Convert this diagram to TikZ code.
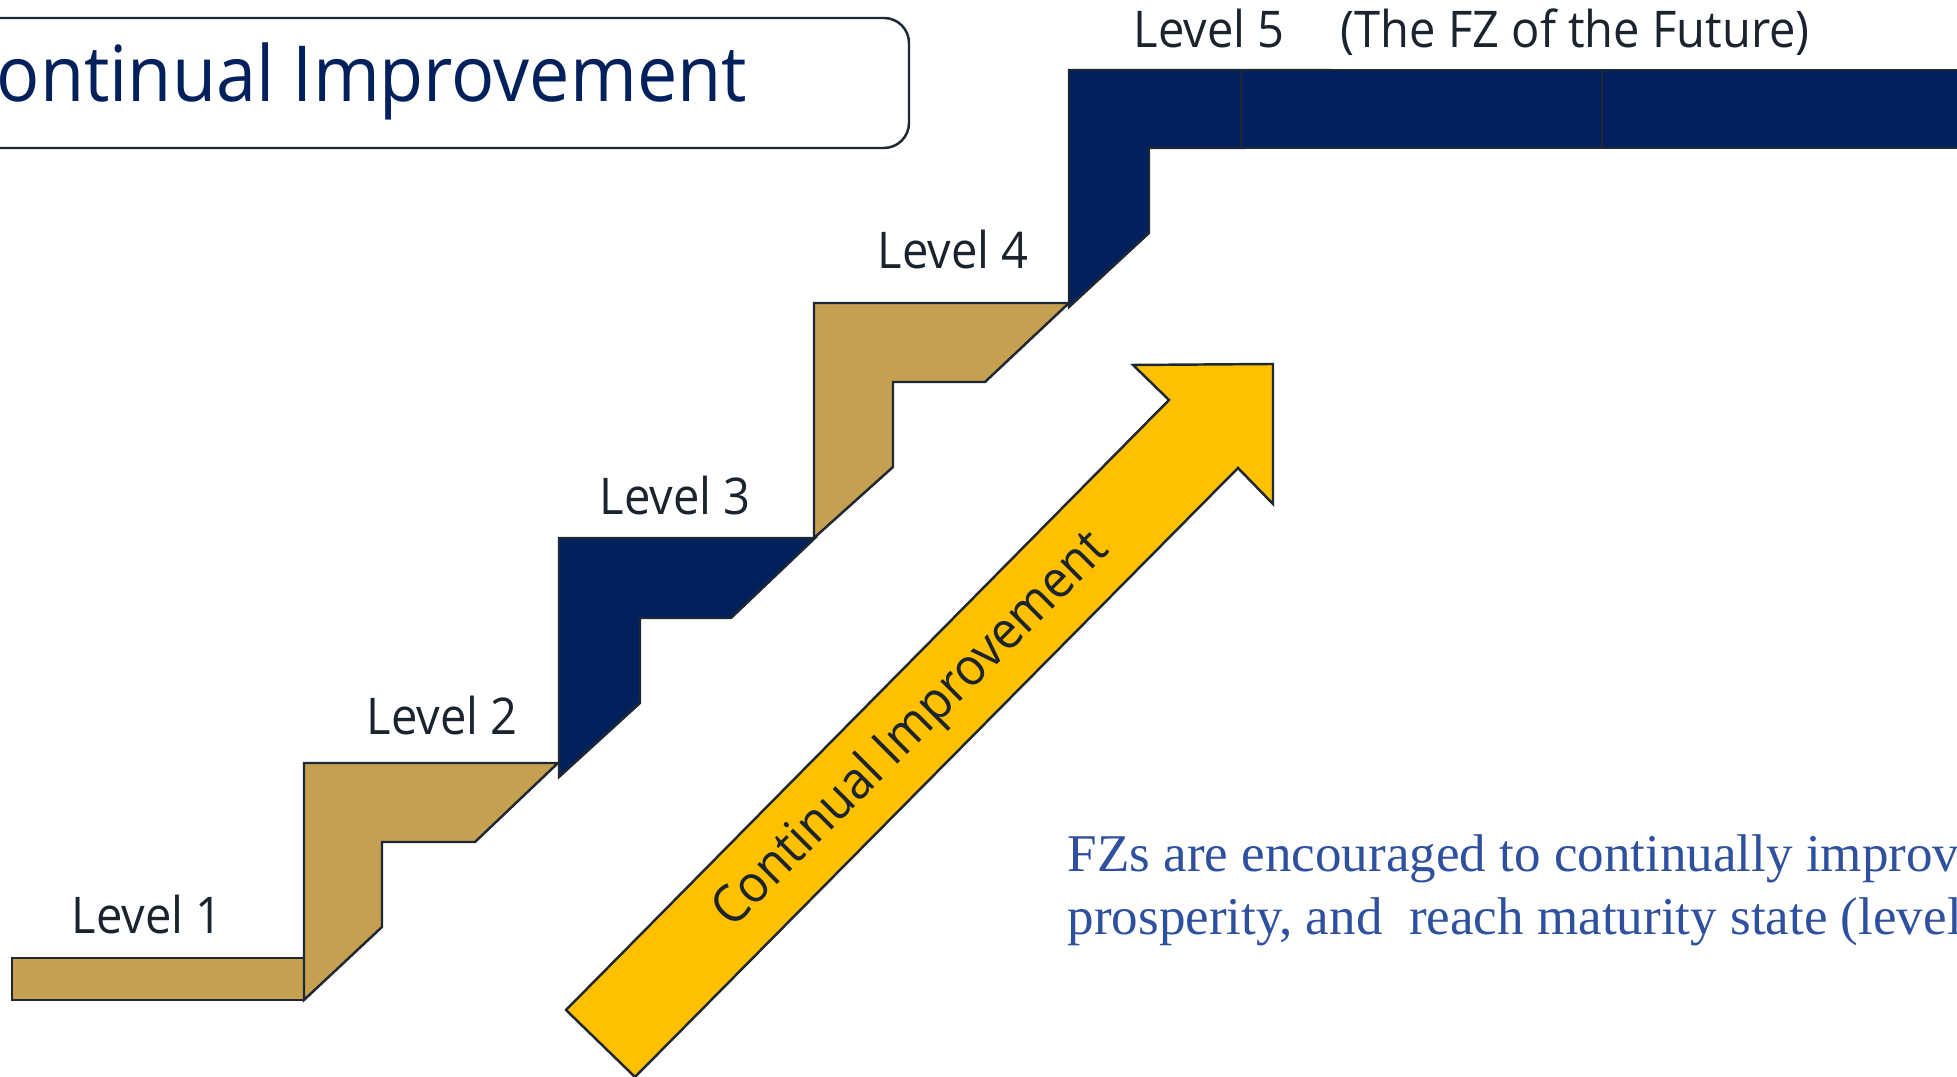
\documentclass[tikz,border=0pt]{standalone}
\usepackage{fontspec}
\setmainfont{Liberation Serif}
\newfontfamily\stairfont[FakeStretch=0.93]{Open Sans}
\definecolor{stepgold}{RGB}{196,160,80}
\definecolor{stepnavy}{RGB}{2,33,92}
\definecolor{arrowyellow}{RGB}{255,192,0}
\definecolor{edgedark}{RGB}{30,40,52}
\definecolor{labeldark}{RGB}{27,36,46}
\definecolor{noteblue}{RGB}{46,80,158}

\begin{document}
\begin{tikzpicture}[x=0.1mm, y=-0.1mm,
    goldstep/.style={fill=stepgold, draw=edgedark, line width=0.7pt},
    navystep/.style={fill=stepnavy, draw=edgedark, line width=0.7pt},
    levellabel/.style={anchor=base west, inner sep=0pt, text=labeldark,
        font=\stairfont\fontsize{14.4}{17}\selectfont},
    note/.style={anchor=base west, inner sep=0pt, text=noteblue,
        font=\fontsize{15.1}{18}\selectfont}]

  \useasboundingbox (0,0) rectangle (1957,1077);
  \clip (0,0) rectangle (1957,1077);

  % Titolo
  \draw[edgedark, line width=0.7pt, rounded corners=2.5mm, fill=white] (-30,18) rectangle (909,148);
  \node[anchor=base west, inner sep=0pt, text=stepnavy,
        font=\stairfont\fontsize{22}{26}\selectfont] (title) at (-4,102) {ontinual Improvement};

  % Gradini
  \draw[goldstep] (12,958) rectangle (304,1000);
  \draw[goldstep] (304,1000) -- (304,763) -- (558,763) -- (475,842) -- (382,842) -- (382,927) -- cycle;
  \draw[navystep] (559,777) -- (559,538) -- (815,538) -- (731,618) -- (640,618) -- (640,703) -- cycle;
  \draw[goldstep] (814,538) -- (814,303) -- (1069,303) -- (985,382) -- (893,382) -- (893,467) -- cycle;
  \draw[navystep] (1069,307) -- (1069,70) -- (1328,70) -- (1245,148) -- (1149,148) -- (1149,233) -- cycle;
  \draw[navystep] (1241,70) rectangle (1602,148);
  \draw[navystep] (1602,70) rectangle (1990,148);

  % Etichette dei livelli
  \node[levellabel] (lev1) at (71,934) {Level 1};
  \node[levellabel] (lev2) at (366,735) {Level 2};
  \node[levellabel] (lev3) at (599,515) {Level 3};
  \node[levellabel] (lev4) at (877,269) {Level 4};
  \node[levellabel] (lev5) at (1133,48) {Level 5\hspace{16pt}(The FZ of the Future)};

  % Freccia di miglioramento
  \draw[fill=arrowyellow, draw=edgedark, line width=0.7pt]
    (566,1010) -- (1169,400) -- (1133,365) -- (1273,364) -- (1273,504) -- (1238,468) -- (635,1077) -- cycle;
  \node[rotate=45, inner sep=0pt, text=labeldark,
        font=\stairfont\fontsize{14.8}{17}\selectfont] (arrowtext) at (912,731) {Continual Improvement};

  % Nota
  \node[note] (note1) at (1067,871.5) {FZs are encouraged to continually improv};
  \node[note] (note2) at (1067,935) {prosperity, and\ \ reach maturity state (level};

\end{tikzpicture}
\end{document}
